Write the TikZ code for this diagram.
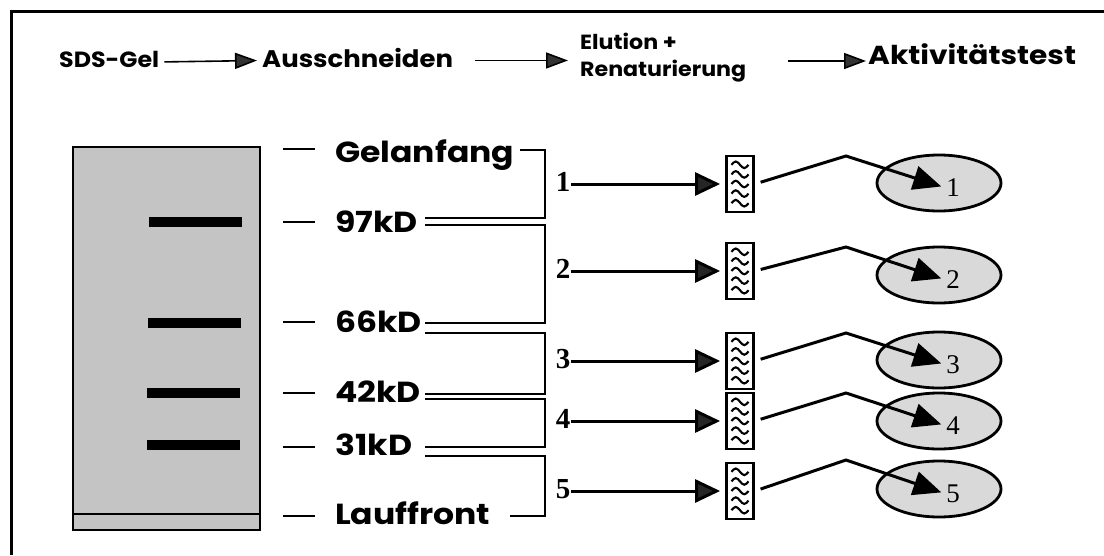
\documentclass[tikz,border=0pt]{standalone}
\usepackage{fontspec}
\newfontfamily\gothic{Poppins}[FakeStretch=1.08]
\newfontfamily\gothicwide{Poppins}[FakeStretch=1.14]
\newfontfamily\serifnum{Liberation Serif}
\usetikzlibrary{arrows.meta,shapes.geometric,calc}
\definecolor{gelgray}{gray}{0.77}
\definecolor{ellgray}{gray}{0.85}
\begin{document}
\begin{tikzpicture}[x=1pt,y=-1pt,
  head/.style={font=\gothic\bfseries\fontsize{24}{27}\selectfont, inner sep=2pt, anchor=base west},
  gellabel/.style={font=\gothicwide\bfseries\fontsize{29}{30}\selectfont, inner sep=2pt, anchor=base west},
  harrow/.style={line width=1.6pt, -{Triangle[length=22pt,width=16pt,fill=black!80]}},
  tickline/.style={line width=2pt},
  bracket/.style={line width=2.5pt},
  band/.style={fill=black, minimum width=93pt, minimum height=10pt, inner sep=0pt},
  num/.style={font=\serifnum\bfseries\fontsize{29}{30}\selectfont, inner sep=1pt},
  tube/.style={draw, line width=2.8pt, fill=white, minimum width=27pt, minimum height=56pt, inner sep=0pt},
  wave/.style={line width=2.1pt},
  midarrow/.style={line width=3pt, shorten >=5pt, -{Triangle[length=25pt,width=23pt,fill=black!85]}},
  ell/.style={ellipse, draw, line width=2.8pt, fill=ellgray, minimum width=124pt, minimum height=56pt, inner sep=0pt},
  elab/.style={font=\serifnum\fontsize{27}{28}\selectfont, inner sep=0pt},
  carrow/.style={line width=3pt, line join=miter, shorten <=6pt, shorten >=5pt, -{Triangle[length=28pt,width=24pt]}}
]
\useasboundingbox (0,0) rectangle (1104,555);

% frame
\draw[line width=3pt] (11,555) -- (11,11) -- (1104,11);

% header: workflow steps
\node[head, font=\gothic\bfseries\fontsize{22}{27}\selectfont] (sds) at (57,67) {SDS-Gel};
\node[head] (aus) at (260,67) {Ausschneiden};
\node[head, font=\gothic\bfseries\fontsize{20.5}{27}\selectfont, align=left, anchor=west] (elu) at (578,58) {Elution +\\Renaturierung};
\node[head, font=\gothicwide\bfseries\fontsize{26}{27}\selectfont] (akt) at (866,64) {Aktivitätstest};
\draw[harrow, shorten <=3pt, shorten >=3pt] ([yshift=-3pt]sds.east) -- ([yshift=-3pt]aus.west);
\draw[harrow, shorten <=20pt, shorten >=10pt] ([yshift=-3pt]aus.east) -- ([yshift=-3pt]aus.east -| elu.west);
\draw[harrow, shorten <=40pt] ([yshift=-3pt]elu.east) -- ([yshift=-3pt]elu.east -| akt.west);

% gel with marker bands
\node[draw, line width=2.5pt, fill=gelgray, minimum width=187pt, minimum height=383pt, inner sep=0pt] (gel) at (166.5,338.5) {};
\draw[line width=1.6pt] ([yshift=17pt]gel.south west) -- ([yshift=17pt]gel.south east);
\node[band] (b97) at (195,222) {};
\node[band] (b66) at (194,322.5) {};
\node[band] (b42) at (193,392.5) {};
\node[band] (b31) at (193,445) {};

% marker labels
\node[gellabel] (gelanfang) at (333,162) {Gelanfang};
\node[gellabel] (k97) at (333,232) {97kD};
\node[gellabel] (k66) at (333,332) {66kD};
\node[gellabel] (k42) at (333,402) {42kD};
\node[gellabel] (k31) at (333,455) {31kD};
\node[gellabel] (lauf) at (333,524) {Lauffront};
\foreach \lab/\dy in {gelanfang/13,k97/10,k66/10,k42/9,k31/8,lauf/8}
  \draw[tickline] ($(\lab.base west)+(-18,-\dy)$) -- ++(-32,0);

% fraction brackets
\draw[bracket] ($(gelanfang.base east)+(3,-12)$) -| (545,218) -- (425,218);
\draw[bracket] (425,225) -| (545,323) -- (425,323);
\draw[bracket] (425,333) -| (545,394) -- (425,394);
\draw[bracket] (425,399) -| (545,447) -- (425,447);
\draw[bracket] (425,456) -| (545,516) -- (510,516);

% fractions: elution tubes
\foreach \i/\y in {1/184,2/271,3/361,4/421,5/491} {
  \node[num] (n\i) at (563,\y-2) {\i};
  \node[tube] (t\i) at (740,\y) {};
  \draw[midarrow] (n\i.east |- t\i.west) -- (t\i.west);
}
\foreach \t in {t1,t2,t3,t4,t5}
  \foreach \k in {-2,...,2}
    \draw[wave] ($(\t.center)+(-8.5,\k*9.6)$) sin ++(4.25,-3.3) cos ++(4.25,3.3) sin ++(4.25,3.3) cos ++(4.25,-3.3);

% activity test
\foreach \i/\y/\py in {1/183/156,2/275/247,3/360/333,4/421/393,5/489/460} {
  \node[ell] (e\i) at (939,\y) {};
  \node[elab] (l\i) at (953,\y+5) {\i};
  \coordinate (p\i) at (846,\py);
  \draw[carrow] (t\i.east) -- (p\i) -- (l\i.west);
}
\end{tikzpicture}
\end{document}
